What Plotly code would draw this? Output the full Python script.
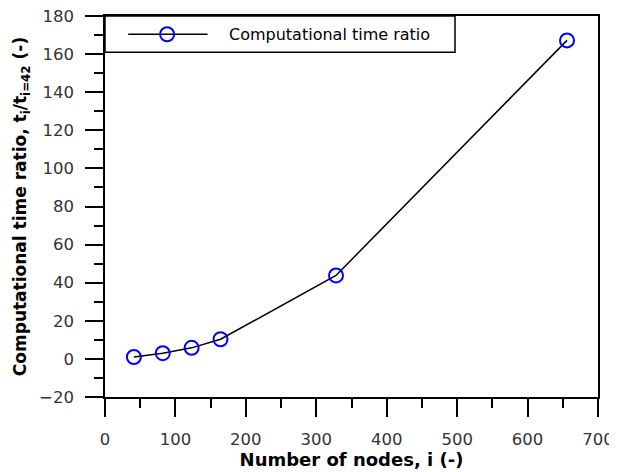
import plotly.graph_objects as go

# data
nodes = [41, 82, 123, 164, 328, 656]
time_ratio = [1.0, 3.0, 5.8, 10.3, 43.8, 167.2]

font_family = "DejaVu Sans"

trace = go.Scatter(
    x=nodes, y=time_ratio, mode='lines+markers',
    name='Computational time ratio',
    line=dict(color='black', width=1.5),
    marker=dict(symbol='circle-open', size=14, color='blue', line=dict(width=2)),
    showlegend=False
)

axis_common = dict(
    showline=True, linecolor='black', linewidth=1.5, mirror=True,
    ticks='outside', ticklen=18, tickwidth=1.5, tickcolor='black',
    showgrid=False, zeroline=False, automargin=False,
    tickfont=dict(family=font_family, size=16.5, color='#333333'),
    ticklabelstandoff=8, ticklabeloverflow='allow',
)

# the page body has an 8px margin, so the figure is offset into the window
layout = go.Layout(
    width=615, height=464,
    margin=dict(l=97, r=25, t=8, b=75),
    plot_bgcolor='white', paper_bgcolor='white',
    font=dict(family=font_family, color='black'),
    xaxis=dict(
        range=[0, 700], dtick=100,
        minor=dict(dtick=50, ticks='outside', ticklen=9, tickwidth=1.5, tickcolor='black'),
        title=dict(text='<b>Number of nodes, i (-)</b>', font=dict(size=18), standoff=6),
        **axis_common
    ),
    yaxis=dict(
        range=[-20, 180], dtick=20,
        minor=dict(dtick=10, ticks='outside', ticklen=9, tickwidth=1.5, tickcolor='black'),
        title=dict(text='<b>Computational time ratio, t<sub>i</sub>/t<sub>i=42</sub> (-)</b>',
                   font=dict(size=17), standoff=8),
        **axis_common
    ),
)

fig = go.Figure(data=[trace], layout=layout)

# legend drawn by hand so the box and sample line match the original
fig.add_shape(type='rect', xref='paper', yref='paper',
              x0=0, x1=0.71, y0=0.905, y1=1,
              line=dict(color='black', width=1.5), fillcolor='white')
fig.add_shape(type='line', xref='paper', yref='paper',
              x0=0.047, x1=0.208, y0=0.952, y1=0.952,
              line=dict(color='black', width=1.5))
fig.add_shape(type='circle', xref='paper', yref='paper',
              x0=0.126 - 0.0142, x1=0.126 + 0.0142, y0=0.952 - 0.0184, y1=0.952 + 0.0184,
              line=dict(color='blue', width=2))
fig.add_annotation(xref='paper', yref='paper', x=0.248, y=0.952,
                   xanchor='left', yanchor='middle', showarrow=False,
                   text='Computational time ratio',
                   font=dict(family=font_family, size=16, color='black'))

fig.write_html("out.html")
